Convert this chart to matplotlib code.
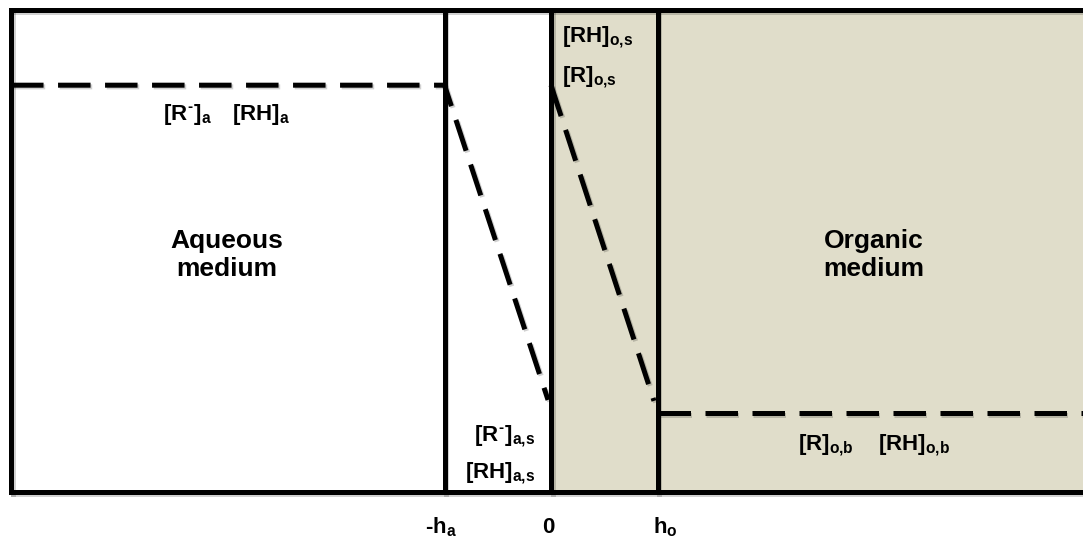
import matplotlib
matplotlib.use("Agg")
import matplotlib.pyplot as plt
import matplotlib.patheffects as pe

plt.rcParams['font.family'] = ['Liberation Sans', 'DejaVu Sans']
plt.rcParams['font.weight'] = 'bold'
plt.rcParams['mathtext.fontset'] = 'custom'
plt.rcParams['mathtext.rm'] = 'Liberation Sans:bold'
plt.rcParams['mathtext.it'] = 'Liberation Sans:bold'
plt.rcParams['mathtext.bf'] = 'Liberation Sans:bold'

# positions in units of the film thickness (h_a = h_o = 1)
x_left, x_right = -5.07, 5.2
boundaries = [-1.0, 0.0, 1.0]

# concentration profiles (normalised to the box height)
aq_x = [x_left, -1.0, -0.028]
aq_c = [0.844, 0.844, 0.191]
org_x = [0.0, 0.967]
org_c = [0.844, 0.189]
bulk_x = [1.0, x_right]
bulk_c = [0.164, 0.164]

BEIGE = '#e0ddca'
LW = 3.6
DASH = (6.5, 2.9)
shadow = [pe.SimpleLineShadow(offset=(1.2, -1.2), alpha=0.18), pe.Normal()]

fig = plt.figure(figsize=(10.83, 5.45), dpi=100)
ax = fig.add_axes([0, 0, 1, 1])
ax.set_xlim(-551 / 106.5, (1083 - 551) / 106.5)
ax.set_ylim((492 - 545) / 482, 492 / 482)
ax.axis('off')

# organic phase shading
ax.fill_between([0, x_right], 0, 1, color=BEIGE, lw=0, zorder=0)

# frame and phase boundaries
ax.plot([x_left, x_right], [1, 1], color='black', lw=LW, solid_capstyle='projecting', path_effects=shadow)
ax.plot([x_left, x_right], [0, 0], color='black', lw=LW, solid_capstyle='projecting', path_effects=shadow)
ax.plot([x_left, x_left], [0, 1], color='black', lw=LW, path_effects=shadow)
for xb in boundaries:
    ax.plot([xb, xb], [0, 1], color='black', lw=LW, path_effects=shadow)

# dashed concentration profiles
for xs, cs in [(aq_x, aq_c), (org_x, org_c), (bulk_x, bulk_c)]:
    ax.plot(xs, cs, color='black', lw=LW, dashes=DASH, dash_capstyle='butt', zorder=3,
            path_effects=shadow)

small = 16
big = 19

ax.text(-3.643, 0.772, r'$[R^{\text{-}}]_{a}$', fontsize=small, va='baseline')
ax.text(-2.995, 0.772, r'$[RH]_{a}$', fontsize=small, va='baseline')

ax.text(0.103, 0.934, r'$[RH]_{\text{o,s}}$', fontsize=small, va='baseline')
ax.text(0.103, 0.851, r'$[R]_{\text{o,s}}$', fontsize=small, va='baseline')

ax.text(-0.150, 0.106, r'$[R^{\text{-}}]_{\text{a,s}}$', fontsize=small, va='baseline', ha='right')
ax.text(-0.150, 0.029, r'$[RH]_{\text{a,s}}$', fontsize=small, va='baseline', ha='right')

ax.text(2.319, 0.087, r'$[R]_{\text{o,b}}$', fontsize=small, va='baseline')
ax.text(3.07, 0.087, r'$[RH]_{\text{o,b}}$', fontsize=small, va='baseline')

ax.text(-3.042, 0.492, 'Aqueous\nmedium', fontsize=big, fontweight='bold',
        ha='center', va='center', multialignment='center')
ax.text(3.033, 0.492, 'Organic\nmedium', fontsize=big, fontweight='bold',
        ha='center', va='center', multialignment='center')

# axis marks under the box
ax.text(-1.03, -0.085, r'$\text{-}h_{a}$', fontsize=small, va='baseline', ha='center')
ax.text(-0.019, -0.085, r'$0$', fontsize=small, va='baseline', ha='center')
ax.text(0.958, -0.085, r'$h_{o}$', fontsize=small, va='baseline', ha='left')

fig.savefig('out.png', dpi=100)
